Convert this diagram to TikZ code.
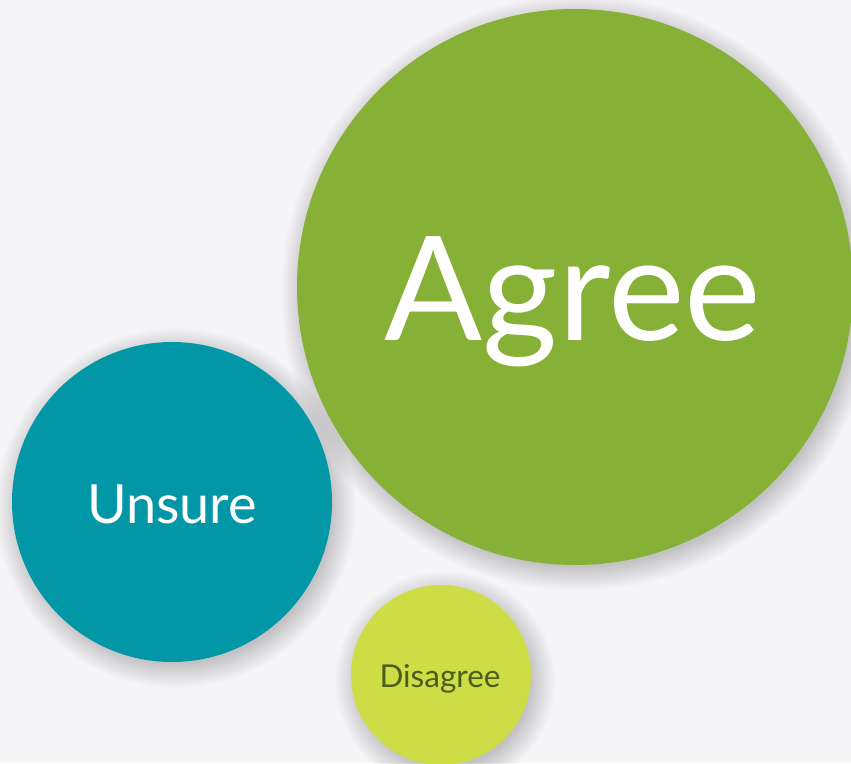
\documentclass[tikz,border=0pt]{standalone}
\usepackage{fontspec}
\setmainfont{Lato}
\definecolor{bgc}{HTML}{F5F5F7}
\definecolor{agreec}{HTML}{86B036}
\definecolor{unsurec}{HTML}{0297A6}
\definecolor{disagreec}{HTML}{CEDD45}
\definecolor{distext}{HTML}{4A5E1C}
\tikzset{
  bubble/.style={circle, inner sep=0pt, draw=none},
  lbl/.style={anchor=base, inner sep=0pt},
  softshadow/.style={fill=black, opacity=0.008}
}
\begin{document}
\begin{tikzpicture}[x=1pt,y=-1pt]
\fill[bgc] (0,0) rectangle (851,763);
\useasboundingbox (0,0) rectangle (851,763);
\coordinate (ca) at (575,287);
\coordinate (cu) at (172,502);
\coordinate (cd) at (441,675);
\foreach \k in {-4,...,20} {
  \fill[softshadow] ([shift={(4,6)}]ca) circle ({278+\k});
  \fill[softshadow] ([shift={(4,6)}]cu) circle ({160+\k});
  \fill[softshadow] ([shift={(4,6)}]cd) circle ({90+\k});
}
\node[bubble, fill=agreec, minimum size=556pt] (agree) at (ca) {};
\node[bubble, fill=unsurec, minimum size=320pt] (unsure) at (cu) {};
\node[bubble, fill=disagreec, minimum size=180pt] (disagree) at (cd) {};
\node[lbl, text=white, font=\fontsize{145}{145}\selectfont] (agreet) at (573,340) {Agree};
\node[lbl, text=white, font=\fontsize{54}{54}\selectfont] (unsuret) at (172,523) {Unsure};
\node[lbl, text=distext, font=\fontsize{31.5}{31.5}\selectfont] (disagreet) at (440,687) {Disagree};
\end{tikzpicture}
\end{document}
